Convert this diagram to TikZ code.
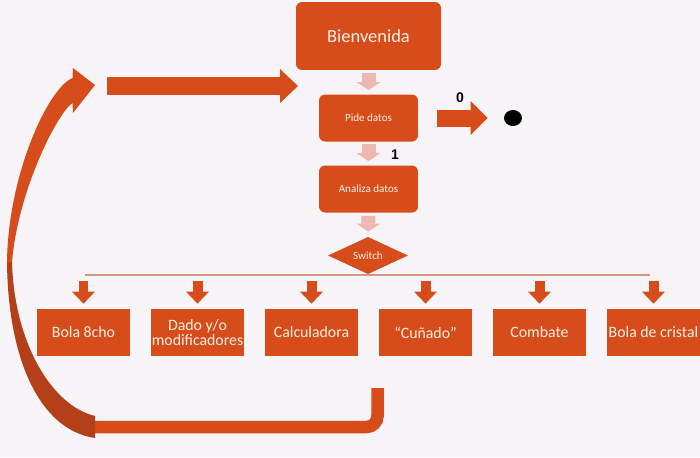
\documentclass[tikz,border=0pt]{standalone}
\usepackage{fontspec}
\setmainfont{Carlito}
\newfontfamily\digitfont{Liberation Sans}
\usetikzlibrary{arrows.meta,shapes.geometric}
\definecolor{slide}{RGB}{247,244,247}
\definecolor{rust}{RGB}{214,77,27}
\definecolor{rustdark}{RGB}{180,64,26}
\definecolor{blush}{RGB}{236,184,176}
\definecolor{cream}{RGB}{253,240,228}
\definecolor{railcol}{RGB}{214,150,128}

\begin{document}
\begin{tikzpicture}[x=0.02cm, y=-0.02cm,
	every node/.style={font=\fontsize{9}{8.5}\selectfont, text=cream, inner sep=0pt},
	stepbox/.style={fill=rust, rounded corners=0.12cm, minimum width=1.98cm, minimum height=0.94cm, font=\fontsize{6.3}{7}\selectfont},
	option/.style={fill=rust, minimum width=1.86cm, minimum height=0.94cm, align=center},
	flag/.style={text=black, font=\digitfont\bfseries\fontsize{8}{9}\selectfont},
	pale/.style={blush, line width=0.28cm, -{Triangle[length=0.16cm, width=0.48cm, line width=0pt]}},
	drop/.style={rust, line width=0.2cm, -{Triangle[length=0.24cm, width=0.46cm, line width=0pt]}, shorten <=0.12cm, shorten >=0.1cm}]
	\path[use as bounding box, fill=slide] (0,0) rectangle (700,457);
	\node[fill=rust, rounded corners=0.12cm, minimum width=2.9cm, minimum height=1.36cm, font=\fontsize{10.5}{12}\selectfont] (bienv) at (368.5,36) {Bienvenida};
	\node[stepbox] (pide) at (368.5,118) {Pide datos};
	\node[stepbox] (analiza) at (368.5,189) {Analiza datos};
	\node[diamond, fill=rust, minimum width=1.6cm, minimum height=0.74cm, font=\fontsize{6.3}{7}\selectfont] (switch) at (368,255.5) {Switch};
	\node[ellipse, fill=black, minimum width=0.36cm, minimum height=0.32cm] (stop) at (513,118) {};
	\node[flag] (zero) at (460,98) {0};
	\node[flag] (one) at (395,155) {1};
	\draw[pale, shorten <=0.06cm, shorten >=0.08cm] (bienv) -- (pide);
	\draw[pale, shorten <=0.04cm, shorten >=0.08cm] (pide) -- (analiza);
	\draw[pale, shorten <=0.06cm, shorten >=0.1cm] (analiza) -- (switch);
	\draw[rust, line width=0.34cm, -{Triangle[length=0.34cm, width=0.68cm, line width=0pt]}, shorten <=0.38cm, shorten >=0.32cm] (pide) -- (stop);
	\coordinate (rail) at (0,275);
	\draw[railcol, line width=0.6pt] (85,275) -- (650,275);
	\node[option] (bola) at (83.5,332.5) {Bola 8cho};
	\node[option] (dado) at (197.5,332.5) {Dado y/o\\modificadores};
	\node[option] (calc) at (311.5,332.5) {Calculadora};
	\node[option] (cunado) at (425.5,332.5) {“Cuñado”};
	\node[option] (combate) at (539.5,332.5) {Combate};
	\node[option] (cristal) at (653.5,332.5) {Bola de cristal};
	\foreach \b in {bola,dado,calc,cunado,combate,cristal}
		\draw[drop] (\b.north |- rail) -- (\b.north);
	\coordinate (uend) at (377.5,388);
	\coordinate (tail) at (95,427);
	\draw[rust, line width=0.25cm, rounded corners=0.22cm] (uend) |- (tail);
	\fill[rustdark] (7,262) .. controls (8,360) and (40,430) .. (95,438) -- (95,416) .. controls (50,405) and (14,340) .. (12,262) -- cycle;
	\fill[rust] (12,262) .. controls (18,190) and (58,112) .. (72.5,103) -- (73,113) -- (95,85) -- (73,68) -- (72.5,78) .. controls (48,88) and (8,175) .. (7,262) -- cycle;
	\coordinate (loopstart) at (107,86);
	\coordinate (loopend) at (298,86);
	\draw[rust, line width=0.36cm, -{Triangle[length=0.36cm, width=0.68cm, line width=0pt]}] (loopstart) -- (loopend);
\end{tikzpicture}
\end{document}
